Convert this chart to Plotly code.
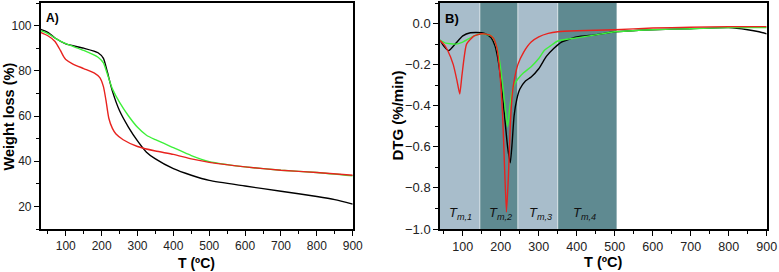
import plotly.graph_objects as go

# ---- Panel A: TGA (weight loss %) ----
tga_T_black = [30, 50, 70, 100, 150, 190, 205, 215, 230, 250, 275, 300, 325, 350, 400, 450, 500, 600, 700, 800, 850, 900]
tga_black = [98.3, 97.0, 94.5, 91.9, 90.0, 88.0, 85.5, 80.0, 71.0, 62.3, 55.0, 49.0, 44.0, 41.0, 36.7, 33.8, 31.5, 29.0, 26.7, 24.4, 23.0, 21.0]

tga_T_red = [30, 50, 70, 85, 95, 100, 120, 150, 180, 195, 205, 212, 220, 230, 240, 260, 300, 350, 400, 450, 500, 600, 700, 800, 900]
tga_red = [97.0, 95.5, 93.0, 89.0, 86.0, 85.0, 83.0, 81.0, 79.0, 77.0, 73.0, 67.0, 59.0, 54.5, 52.0, 49.5, 46.5, 44.5, 43.0, 41.0, 39.5, 37.5, 36.0, 35.0, 33.8]

tga_T_green = [30, 50, 70, 100, 150, 190, 205, 215, 230, 250, 275, 300, 325, 350, 400, 450, 500, 550, 600, 700, 800, 900]
tga_green = [97.8, 96.5, 94.5, 92.0, 89.0, 86.0, 83.5, 79.0, 72.0, 66.0, 60.0, 55.0, 51.5, 49.5, 46.0, 42.5, 39.8, 38.5, 37.5, 36.0, 35.0, 33.5]

# ---- Panel B: DTG (%/min) ----
dtg_T_black = [40, 50, 63, 80, 100, 120, 150, 165, 175, 185, 195, 203, 210, 218, 225, 230, 235, 242, 250, 265, 280, 300, 320, 340, 360, 400, 450, 500, 600, 700, 800, 850, 880, 900]
dtg_black = [-0.08, -0.11, -0.132, -0.10, -0.06, -0.045, -0.045, -0.055, -0.07, -0.11, -0.20, -0.32, -0.45, -0.60, -0.678, -0.58, -0.45, -0.37, -0.32, -0.28, -0.26, -0.22, -0.16, -0.12, -0.09, -0.065, -0.055, -0.04, -0.03, -0.025, -0.02, -0.03, -0.04, -0.05]

dtg_T_red = [40, 50, 60, 75, 85, 92, 98, 110, 130, 150, 170, 180, 190, 198, 205, 210, 215, 220, 225, 230, 235, 245, 260, 280, 300, 325, 350, 400, 500, 600, 700, 800, 900]
dtg_red = [-0.083, -0.10, -0.13, -0.20, -0.28, -0.343, -0.25, -0.10, -0.06, -0.05, -0.055, -0.07, -0.12, -0.25, -0.45, -0.70, -0.917, -0.75, -0.50, -0.35, -0.28, -0.20, -0.14, -0.09, -0.065, -0.048, -0.04, -0.035, -0.03, -0.022, -0.018, -0.015, -0.015]

dtg_T_green = [40, 55, 80, 100, 130, 150, 175, 185, 195, 205, 212, 218, 223, 228, 235, 245, 260, 280, 300, 315, 330, 350, 400, 450, 500, 600, 700, 800, 900]
dtg_green = [-0.08, -0.095, -0.10, -0.09, -0.06, -0.05, -0.06, -0.09, -0.16, -0.30, -0.42, -0.502, -0.42, -0.35, -0.30, -0.27, -0.24, -0.21, -0.17, -0.13, -0.11, -0.085, -0.07, -0.055, -0.04, -0.03, -0.025, -0.02, -0.02]

# Temperature regions (Tm,1..Tm,4)
band_edges = [40, 145, 245, 350, 505]
band_labels = ["m,1", "m,2", "m,3", "m,4"]
band_label_x = [95, 200, 305, 420]

BLACK = "#000000"
RED = "#e8231f"
GREEN = "#3ef03a"
LIGHT = "#a8bdcb"
DARK = "#5f8a91"

fig = go.Figure()
lw = 1.4
fig.add_trace(go.Scatter(x=tga_T_black, y=tga_black, mode="lines", line=dict(color=BLACK, width=lw, shape="spline", smoothing=0.6), xaxis="x", yaxis="y", showlegend=False))
fig.add_trace(go.Scatter(x=tga_T_green, y=tga_green, mode="lines", line=dict(color=GREEN, width=lw, shape="spline", smoothing=0.6), xaxis="x", yaxis="y", showlegend=False))
fig.add_trace(go.Scatter(x=tga_T_red, y=tga_red, mode="lines", line=dict(color=RED, width=lw, shape="spline", smoothing=0.6), xaxis="x", yaxis="y", showlegend=False))

fig.add_trace(go.Scatter(x=dtg_T_black, y=dtg_black, mode="lines", line=dict(color=BLACK, width=lw, shape="spline", smoothing=0.5), xaxis="x2", yaxis="y2", showlegend=False))
fig.add_trace(go.Scatter(x=dtg_T_green, y=dtg_green, mode="lines", line=dict(color=GREEN, width=lw, shape="spline", smoothing=0.5), xaxis="x2", yaxis="y2", showlegend=False))
fig.add_trace(go.Scatter(x=dtg_T_red, y=dtg_red, mode="lines", line=dict(color=RED, width=lw, shape="spline", smoothing=0.5), xaxis="x2", yaxis="y2", showlegend=False))

shapes = []
for i in range(len(band_edges) - 1):
    shapes.append(dict(type="rect", xref="x2", yref="y2 domain", x0=band_edges[i], x1=band_edges[i + 1], y0=0, y1=1,
                       fillcolor=LIGHT if i % 2 == 0 else DARK, line=dict(width=0), layer="below"))
for e in band_edges[1:-1]:
    shapes.append(dict(type="line", xref="x2", yref="y2 domain", x0=e, x1=e, y0=0, y1=1,
                       line=dict(color="rgba(255,255,255,0.6)", width=1), layer="below"))

TF = "#000"
annotations = [
    dict(text="<b>A)</b>", xref="x domain", yref="y domain", x=0.012, y=0.975, xanchor="left", yanchor="top",
         showarrow=False, font=dict(size=12, color=TF)),
    dict(text="<b>B)</b>", xref="x2 domain", yref="y2 domain", x=0.008, y=0.975, xanchor="left", yanchor="top",
         showarrow=False, font=dict(size=13, color=TF)),
    # axis titles
    dict(text="<b>T (ºC)</b>", xref="x domain", yref="y domain", x=0.5, y=-0.15, xanchor="center", yanchor="middle",
         showarrow=False, font=dict(size=14, color=TF)),
    dict(text="<b>Weight loss (%)</b>", xref="x domain", yref="y domain", x=-0.1, y=0.5, xanchor="center", yanchor="middle",
         textangle=-90, showarrow=False, font=dict(size=14.5, color=TF)),
    dict(text="<b>T (ºC)</b>", xref="x2 domain", yref="y2 domain", x=0.5, y=-0.145, xanchor="center", yanchor="middle",
         showarrow=False, font=dict(size=14.5, color=TF)),
    dict(text="<b>DTG (%/min)</b>", xref="x2 domain", yref="y2 domain", x=-0.133, y=0.5, xanchor="center", yanchor="middle",
         textangle=-90, showarrow=False, font=dict(size=15, color=TF)),
]
for lab, lx in zip(band_labels, band_label_x):
    annotations.append(dict(text="<i>T</i><sub><i>%s</i></sub>" % lab, xref="x2", yref="y2", x=lx, y=-0.925,
                            showarrow=False, font=dict(size=13, color="#111")))


def axis(tfsize, **kw):
    d = dict(showline=True, linecolor="#000", linewidth=1.5, mirror=True, ticks="outside", ticklen=5,
             tickwidth=1.2, tickcolor="#000", showgrid=False, zeroline=False,
             tickfont=dict(size=tfsize, color="#222"), automargin=False)
    d.update(kw)
    return d


fig.update_layout(
    width=779, height=272,
    margin=dict(l=0, r=0, t=3, b=43),
    paper_bgcolor="white", plot_bgcolor="white",
    font=dict(family="Liberation Sans, Arial, sans-serif"),
    shapes=shapes, annotations=annotations,
    xaxis=axis(12, domain=[0.0522, 0.4528], range=[30, 900], tickvals=[100, 200, 300, 400, 500, 600, 700, 800, 900],
               minor=dict(ticks="outside", ticklen=3, tickwidth=1, tickcolor="#000", dtick=50, tick0=0), anchor="y"),
    yaxis=axis(12, domain=[0, 1], range=[10, 110], tickvals=[20, 40, 60, 80, 100],
               minor=dict(ticks="outside", ticklen=3, tickwidth=1, tickcolor="#000", dtick=10, tick0=0), anchor="x"),
    xaxis2=axis(12.5, domain=[0.5648, 0.9842], range=[40, 900], tickvals=[100, 200, 300, 400, 500, 600, 700, 800, 900],
                minor=dict(ticks="outside", ticklen=3, tickwidth=1, tickcolor="#000", dtick=50, tick0=0), anchor="y2"),
    yaxis2=axis(13, domain=[0, 1], range=[-1.0, 0.1], tickvals=[-1.0, -0.8, -0.6, -0.4, -0.2, 0.0], tickformat=".1f",
                minor=dict(ticks="outside", ticklen=3, tickwidth=1, tickcolor="#000", dtick=0.1, tick0=0), anchor="x2"),
)

fig.write_html("out.html", config={"displayModeBar": False},
               post_script="document.body.style.margin='0';document.body.style.overflow='hidden';")
